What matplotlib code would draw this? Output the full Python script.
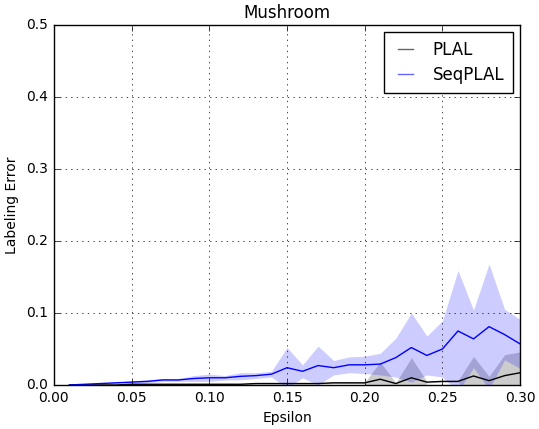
import numpy as np
import matplotlib
matplotlib.use('Agg')
import matplotlib.pyplot as plt

eps = [0.01, 0.02, 0.03, 0.04, 0.05, 0.06, 0.07, 0.08, 0.09, 0.10,
       0.11, 0.12, 0.13, 0.14, 0.15, 0.16, 0.17, 0.18, 0.19, 0.20,
       0.21, 0.22, 0.23, 0.24, 0.25, 0.26, 0.27, 0.28, 0.29, 0.30]

plal_mean = [0.000, 0.000, 0.000, 0.000, 0.001, 0.001, 0.001, 0.001, 0.001, 0.001,
             0.001, 0.001, 0.002, 0.002, 0.002, 0.002, 0.002, 0.003, 0.003, 0.003,
             0.008, 0.002, 0.010, 0.004, 0.005, 0.005, 0.0125, 0.006, 0.013, 0.017]
plal_std = [0.000, 0.000, 0.000, 0.000, 0.001, 0.001, 0.001, 0.001, 0.001, 0.001,
            0.001, 0.001, 0.001, 0.001, 0.001, 0.001, 0.001, 0.001, 0.001, 0.001,
            0.024, 0.001, 0.028, 0.001, 0.001, 0.001, 0.027, 0.006, 0.029, 0.029]

seq_mean = [0.000, 0.001, 0.002, 0.003, 0.004, 0.005, 0.007, 0.007, 0.009, 0.010,
            0.010, 0.012, 0.013, 0.015, 0.024, 0.019, 0.027, 0.024, 0.028, 0.028,
            0.029, 0.038, 0.052, 0.041, 0.050, 0.075, 0.064, 0.081, 0.070, 0.057]
seq_std = [0.000, 0.001, 0.001, 0.001, 0.002, 0.002, 0.002, 0.002, 0.004, 0.005,
           0.003, 0.005, 0.004, 0.004, 0.028, 0.009, 0.027, 0.010, 0.011, 0.012,
           0.015, 0.027, 0.048, 0.027, 0.039, 0.084, 0.040, 0.087, 0.035, 0.034]

plt.style.use('classic')
fig = plt.figure(figsize=(5.39, 4.29), dpi=100, facecolor='white')
ax = fig.add_axes([0.1, 0.1026, 0.865, 0.8394])

x = np.array(eps)
pm, ps = np.array(plal_mean), np.array(plal_std)
sm, ss = np.array(seq_mean), np.array(seq_std)

ax.fill_between(x, pm - ps, pm + ps, color='k', alpha=0.2, linewidth=0)
ax.plot(x, pm, color='k', label='PLAL')
ax.fill_between(x, sm - ss, sm + ss, color='b', alpha=0.2, linewidth=0)
ax.plot(x, sm, color='b', label='SeqPLAL')

ax.set_xlim(0, 0.3)
ax.set_ylim(0, 0.5)
ax.set_title('Mushroom', fontsize=12)
ax.set_xlabel('Epsilon', fontsize=10)
ax.set_ylabel('Labeling Error', fontsize=10)
ax.tick_params(labelsize=10)
ax.grid(True)
leg = ax.legend(loc='upper right', fontsize=12, handlelength=1.5,
                handletextpad=0.9, labelspacing=0.45, borderpad=0.55,
                borderaxespad=0.4)
for h in leg.get_lines():
    h.set_alpha(0.6)

fig.savefig('out.png', dpi=100, facecolor='white')
